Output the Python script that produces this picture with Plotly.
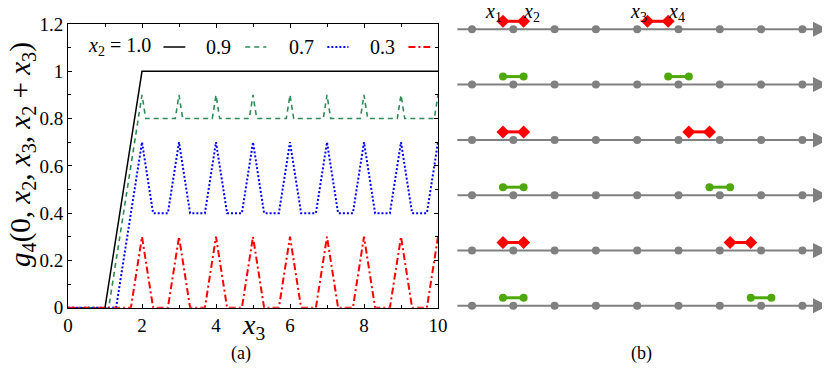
import plotly.graph_objects as go

# ---- panel (a): g4 curves, breakpoints ----
x3_10 = [0, 1, 2, 10]
g_10 = [0, 0, 1, 1]

x3_09 = [0, 1.1, 2, 2.1, 2.9, 3, 3.1, 3.9, 4, 4.1, 4.9, 5, 5.1, 5.9, 6,
         6.1, 6.9, 7, 7.1, 7.9, 8, 8.1, 8.9, 9, 9.1, 9.9, 10]
g_09 = [0, 0, 0.9, 0.8, 0.8, 0.9, 0.8, 0.8, 0.9, 0.8, 0.8, 0.9, 0.8, 0.8, 0.9,
        0.8, 0.8, 0.9, 0.8, 0.8, 0.9, 0.8, 0.8, 0.9, 0.8, 0.8, 0.9]

x3_07 = [0, 1.3, 2, 2.3, 2.7, 3, 3.3, 3.7, 4, 4.3, 4.7, 5, 5.3, 5.7, 6,
         6.3, 6.7, 7, 7.3, 7.7, 8, 8.3, 8.7, 9, 9.3, 9.7, 10]
g_07 = [0, 0, 0.7, 0.4, 0.4, 0.7, 0.4, 0.4, 0.7, 0.4, 0.4, 0.7, 0.4, 0.4, 0.7,
        0.4, 0.4, 0.7, 0.4, 0.4, 0.7, 0.4, 0.4, 0.7, 0.4, 0.4, 0.7]

x3_03 = [0, 1.7, 2, 2.3, 2.7, 3, 3.3, 3.7, 4, 4.3, 4.7, 5, 5.3, 5.7, 6,
         6.3, 6.7, 7, 7.3, 7.7, 8, 8.3, 8.7, 9, 9.3, 9.7, 10]
g_03 = [0, 0, 0.3, 0, 0, 0.3, 0, 0, 0.3, 0, 0, 0.3, 0, 0, 0.3,
        0, 0, 0.3, 0, 0, 0.3, 0, 0, 0.3, 0, 0, 0.3]

legend_labels = ["<i>x</i><sub>2</sub>&nbsp;=&nbsp;1.0", "0.9", "0.7", "0.3"]

# ---- panel (b): schematic number lines ----
site_positions = [0, 1, 2, 3, 4, 5, 6, 7, 8]
left_pair_centre = 1
right_pair_centres = [4.5, 5, 5.5, 6, 6.5, 7]
pair_half_len = 0.25

FONT = "'Liberation Serif', serif"
GRAY = "#808080"
RED = "#ff0000"
GREEN = "#4fa80a"
W, H = 830, 368
OFF = 8  # the page body margin shifts the figure by this many pixels


def px_x(p):
    return (p - OFF) / W


def px_y(p):
    return 1 - (p - OFF) / H


fig = go.Figure()

styles = [
    (x3_10, g_10, "black", "solid", 1.5),
    (x3_09, g_09, "#2e8b57", "5px,4px", 1.6),
    (x3_07, g_07, "#0000ff", "2px,2px", 2),
    (x3_03, g_03, "#ff0000", "7px,3px,2px,3px", 2),
]
for xs, ys, col, dash, w in styles:
    fig.add_trace(go.Scatter(x=xs, y=ys, mode="lines", showlegend=False,
                             line=dict(color=col, dash=dash, width=w),
                             xaxis="x", yaxis="y", cliponaxis=False))

# hand-placed legend row inside the axes (text then line sample)
leg_y = 1.103
leg_text_right = [2.30, 4.47, 6.71, 8.90]
leg_sample = [(2.58, 3.17), (4.79, 5.36), (7.01, 7.58), (9.2, 9.79)]
for lab, xr, (s0, s1), (_, _, col, dash, w) in zip(legend_labels, leg_text_right,
                                                    leg_sample, styles):
    fig.add_annotation(x=xr, y=leg_y, xref="x", yref="y", text=lab,
                       showarrow=False, xanchor="right", yanchor="middle",
                       font=dict(family=FONT, size=20, color="black"))
    fig.add_shape(type="line", x0=s0, x1=s1, y0=leg_y, y1=leg_y, xref="x",
                  yref="y", line=dict(color=col, dash=dash, width=w))

# panel (b)
line_start, line_tip = -0.39, 8.62
seg_dy = -0.145
for i, rc in enumerate(right_pair_centres):
    fig.add_annotation(x=line_tip, y=i, ax=line_start, ay=i, xref="x2", yref="y2",
                       axref="x2", ayref="y2", text="", showarrow=True,
                       arrowhead=2, arrowsize=1.5, arrowwidth=2, arrowcolor=GRAY)
    fig.add_trace(go.Scatter(x=site_positions, y=[i] * len(site_positions),
                             mode="markers", showlegend=False,
                             marker=dict(color=GRAY, size=8),
                             xaxis="x2", yaxis="y2"))
    col = RED if i % 2 == 0 else GREEN
    sym = "diamond" if i % 2 == 0 else "circle"
    msize = 10 if i % 2 == 0 else 8
    xs = [left_pair_centre - pair_half_len, left_pair_centre + pair_half_len, None,
          rc - pair_half_len, rc + pair_half_len]
    ys = [i + seg_dy, i + seg_dy, None, i + seg_dy, i + seg_dy]
    fig.add_trace(go.Scatter(x=xs, y=ys, mode="lines+markers", showlegend=False,
                             line=dict(color=col, width=3),
                             marker=dict(color=col, size=msize, symbol=sym),
                             xaxis="x2", yaxis="y2"))

pair_labels = [("<i>x</i><sub>1</sub>", left_pair_centre - pair_half_len, -9),
               ("<i>x</i><sub>2</sub>", left_pair_centre + pair_half_len, 8),
               ("<i>x</i><sub>3</sub>", right_pair_centres[0] - pair_half_len, -9),
               ("<i>x</i><sub>4</sub>", right_pair_centres[0] + pair_half_len, 8)]
for txt, xv, sh in pair_labels:
    fig.add_annotation(x=xv, y=-0.30, xref="x2", yref="y2", text=txt,
                       showarrow=False, xshift=sh, xanchor="center",
                       yanchor="middle",
                       font=dict(family=FONT, size=20, color="black"))

# titles and panel letters (positions in window pixels)
paper_text = [
    ("<i>g</i><sub>4</sub>(0, <i>x</i><sub>2</sub>, <i>x</i><sub>3</sub>, "
     "<i>x</i><sub>2</sub> + <i>x</i><sub>3</sub>)", 22, 155, 29, -90),
    ("<i>x</i><sub>3</sub>", 253, 326, 28, 0),
    ("(a)", 241, 353, 18, 0),
    ("(b)", 641, 353, 18, 0),
]
for txt, px, py, fs, ang in paper_text:
    fig.add_annotation(x=px_x(px), y=px_y(py), xref="paper", yref="paper",
                       text=txt, textangle=ang, showarrow=False,
                       xanchor="center", yanchor="middle",
                       font=dict(family=FONT, size=fs, color="black"))

axis_common = dict(showline=True, linecolor="black", linewidth=1, mirror="ticks",
                   ticks="inside", ticklen=4, tickcolor="black", showgrid=False,
                   zeroline=False, automargin=False,
                   tickfont=dict(family=FONT, size=19, color="black"))

# right panel: site k sits at window x = 472 + 41.3 k, row i at y = 29.3 + 55.3 i
fig.update_layout(
    template="none",
    width=W, height=H,
    margin=dict(l=0, r=0, t=0, b=0, pad=0),
    paper_bgcolor="white", plot_bgcolor="white",
    xaxis=dict(domain=[px_x(68), px_x(438)], range=[0, 10], dtick=2, anchor="y",
               minor=dict(dtick=1, ticks="inside", ticklen=3, tickcolor="black"),
               **axis_common),
    yaxis=dict(domain=[px_y(307.7), px_y(24)], range=[0, 1.2], dtick=0.2,
               anchor="x",
               minor=dict(dtick=0.1, ticks="inside", ticklen=3, tickcolor="black"),
               **axis_common),
    xaxis2=dict(domain=[px_x(450), 1], range=[(450 - 472) / 41.3, (838 - 472) / 41.3],
                visible=False, anchor="y2", automargin=False),
    yaxis2=dict(domain=[0, 1], range=[(376 - 29.3) / 55.3, (8 - 29.3) / 55.3],
                visible=False, anchor="x2", automargin=False),
)

fig.write_html("out.html")
